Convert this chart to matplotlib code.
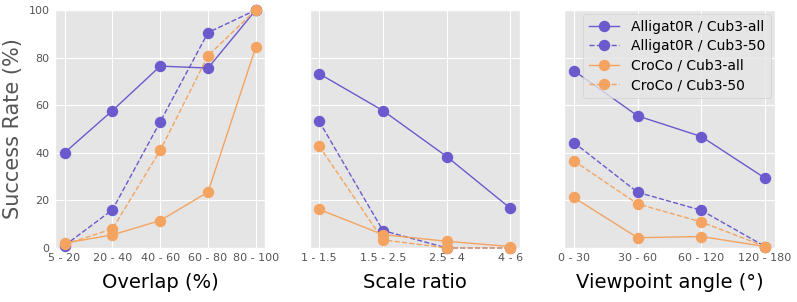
import matplotlib
matplotlib.use("Agg")
import matplotlib.pyplot as plt

plt.style.use("ggplot")

PURPLE = "#6a5acd"
ORANGE = "#f4a460"

# Overlap (%)
overlap_labels = ["5 - 20", "20 - 40", "40 - 60", "60 - 80", "80 - 100"]
overlap_all_alli = [40, 57.7, 76.4, 75.6, 100]
overlap_50_alli = [1.0, 16, 53, 90.5, 100]
overlap_all_croco = [2.0, 5.5, 11.5, 23.5, 84.5]
overlap_50_croco = [1.5, 8, 41, 80.8, 100]

# Scale ratio
scale_labels = ["1 - 1.5", "1.5 - 2.5", "2.5 - 4", "4 - 6"]
scale_all_alli = [73.2, 57.7, 38.4, 16.6]
scale_50_alli = [53.2, 7.3, 0, 0]
scale_all_croco = [16.2, 5.6, 2.8, 0.6]
scale_50_croco = [42.8, 3.4, 0, 0]

# Viewpoint angle
view_labels = ["0 - 30", "30 - 60", "60 - 120", "120 - 180"]
view_all_alli = [74.5, 55.5, 46.8, 29.3]
view_50_alli = [44.3, 23.4, 15.8, 0.6]
view_all_croco = [21.2, 4.3, 4.8, 0.6]
view_50_croco = [36.6, 18.5, 10.9, 0.6]

panels = [
    ("Overlap (%)", overlap_labels,
     overlap_all_alli, overlap_50_alli, overlap_all_croco, overlap_50_croco),
    ("Scale ratio", scale_labels,
     scale_all_alli, scale_50_alli, scale_all_croco, scale_50_croco),
    ("Viewpoint angle (°)", view_labels,
     view_all_alli, view_50_alli, view_all_croco, view_50_croco),
]

fig, axes = plt.subplots(1, 3, figsize=(7.97, 3.02), dpi=100, sharey=True)
fig.subplots_adjust(left=0.069, right=0.972, bottom=0.179, top=0.967, wspace=0.21)

for ax, (xlabel, labels, a_all, a_50, c_all, c_50) in zip(axes, panels):
    x = list(range(len(labels)))
    style = dict(marker="o", markersize=7.2, linewidth=1, clip_on=False, zorder=3)
    ax.plot(x, a_all, color=PURPLE, linestyle="-", label="Alligat0R / Cub3-all", **style)
    ax.plot(x, a_50, color=PURPLE, linestyle="--", label="Alligat0R / Cub3-50", **style)
    ax.plot(x, c_all, color=ORANGE, linestyle="-", label="CroCo / Cub3-all", **style)
    ax.plot(x, c_50, color=ORANGE, linestyle="--", label="CroCo / Cub3-50", **style)
    ax.set_xticks(x)
    ax.set_xticklabels(labels, fontsize=8, color="#555555")
    ax.set_xlabel(xlabel, fontsize=14, color="black", labelpad=7)
    ax.set_ylim(0, 100)
    ax.set_yticks([0, 20, 40, 60, 80, 100])
    ax.tick_params(axis="both", length=0, pad=4, labelsize=8, labelcolor="#555555")

axes[0].set_ylabel("Success Rate (%)", fontsize=15, color="#555555")
for ax in axes[1:]:
    ax.tick_params(axis="y", labelleft=False)

axes[2].legend(loc="upper right", fontsize=10, borderaxespad=0.3,
               handlelength=2.2, labelspacing=0.4, edgecolor="#cccccc")

plt.savefig("out.png", dpi=100)
plt.close()
